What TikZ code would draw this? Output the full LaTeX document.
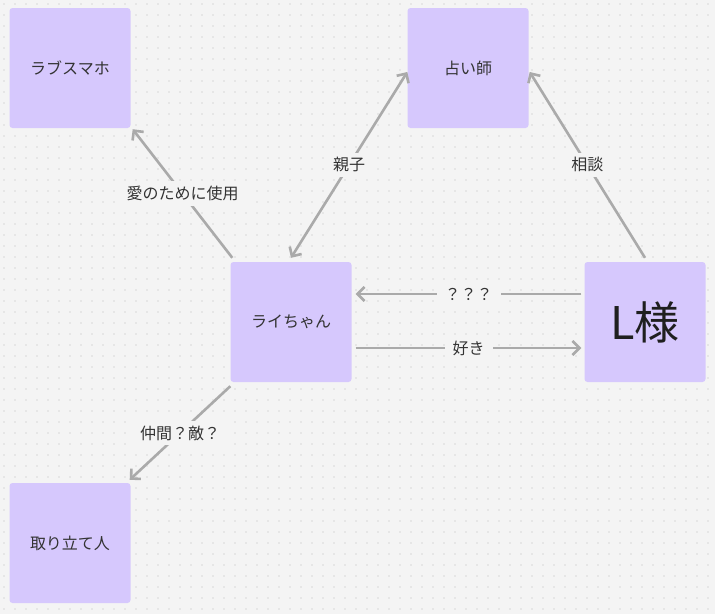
\documentclass[tikz,border=0pt]{standalone}
\usepackage{fontspec}
\setmainfont{Noto Sans CJK JP}
\usetikzlibrary{positioning,arrows.meta,calc}

\definecolor{fundo}{HTML}{F4F4F4}
\definecolor{ponto}{HTML}{B8B8B8}
\definecolor{caixa}{HTML}{D6C8FD}
\definecolor{seta}{HTML}{AAAAAA}
\definecolor{texto}{HTML}{333333}

\tikzset{
    pessoa/.style={rectangle, rounded corners=3pt, fill=caixa, minimum width=121pt,
        minimum height=120pt, inner sep=0pt, text=texto, font=\fontsize{16}{18}\selectfont},
    ligacao/.style={draw=seta, line width=2.6pt, -{Straight Barb[length=7pt,width=14pt,line width=2.6pt]}},
    rotulo/.style={fill=fundo, text=texto, inner xsep=8pt, inner ysep=5pt, font=\fontsize{16}{18}\selectfont}
}

\begin{document}
\begin{tikzpicture}[x=1pt,y=-1pt]
        % Fundo
        \fill[fundo] (0,0) rectangle (715,614);
        \useasboundingbox (0,0) rectangle (715,614);
        \foreach \i in {0,...,64} {
            \foreach \j in {0,...,55} {
                \fill[ponto] (4+11*\i, 4+11*\j) circle (0.7pt);
            }
        }

        % Caixas
        \node[pessoa] (smartphone) at (70,68) {ラブスマホ};
        \node[pessoa] (adivinho) at (468,68) {占い師};
        \node[pessoa] (rai) at (291,322) {ライちゃん};
        \node[pessoa, text=black!88, font=\fontsize{45}{48}\selectfont] (lsama) at (645,322) {L様};
        \node[pessoa] (cobrador) at (70,543) {取り立て人};

        % Setas
        \draw[ligacao] ([shift={(2pt,4pt)}]rai.north west) -- node[rotulo] {愛のために使用} ([shift={(2pt,-1pt)}]smartphone.south east);
        \draw[ligacao, {Straight Barb[length=7pt,width=14pt,line width=2.6pt]}-{Straight Barb[length=7pt,width=14pt,line width=2.6pt]}]
            ([yshift=4pt]rai.north) -- node[rotulo] {親子} ([yshift=-4pt]adivinho.west);
        \draw[ligacao] ([yshift=4pt]lsama.north) -- node[rotulo] {相談} ([shift={(1pt,-4pt)}]adivinho.east);
        \draw[ligacao] ([shift={(-3pt,28pt)}]lsama.west) -- node[rotulo] {？？？} ([shift={(4pt,28pt)}]rai.east);
        \draw[ligacao] ([shift={(4pt,-26pt)}]rai.east) -- node[rotulo] {好き} ([shift={(-3pt,-26pt)}]lsama.west);
        \draw[ligacao] ([shift={(0pt,-4pt)}]rai.south west) -- node[rotulo] {仲間？敵？} ([shift={(-1pt,3pt)}]cobrador.north east);
\end{tikzpicture}
\end{document}
